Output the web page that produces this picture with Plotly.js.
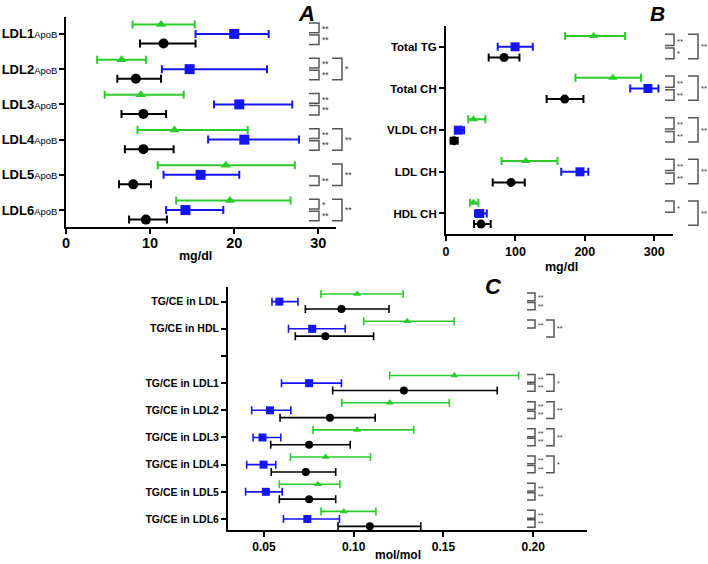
<!DOCTYPE html>
<html><head><meta charset="utf-8">
<script src="https://cdn.plot.ly/plotly-3.0.1.min.js"></script>
<style>body{margin:0;padding:0;background:#fff;} #chart{width:708px;height:564px;}</style>
</head><body><div id="chart"></div>
<script>
// ---------- Panel A (mg/dl) ----------
const catsA = ['LDL1','LDL2','LDL3','LDL4','LDL5','LDL6'];
const suffixA = 'ApoB';
const aGreenMean = [11.3, 6.6, 8.9, 12.9, 19.0, 19.5];
const aGreenLo   = [7.9, 3.7, 4.6, 8.5, 10.9, 13.1];
const aGreenHi   = [15.3, 9.5, 14.0, 21.6, 27.2, 26.7];
const aBlueMean  = [20.0, 14.7, 20.6, 21.2, 16.0, 14.2];
const aBlueLo    = [15.4, 11.4, 17.6, 16.9, 11.6, 11.9];
const aBlueHi    = [24.1, 23.9, 26.9, 27.7, 20.6, 18.7];
const aBlackMean = [11.6, 8.3, 9.2, 9.2, 8.0, 9.5];
const aBlackLo   = [8.8, 6.1, 6.6, 7.0, 6.3, 7.5];
const aBlackHi   = [15.4, 11.3, 11.9, 12.8, 10.1, 12.0];
const sigA_gb = ['**','**','**','**','','*'];
const sigA_bk = ['**','**','**','**','**','**'];
const sigA_gk = ['','*','','**','**','**'];
const ticksA = [0, 10, 20, 30];

// ---------- Panel B (mg/dl) ----------
const catsB = ['Total TG','Total CH','VLDL CH','LDL CH','HDL CH'];
const bGreenMean = [212.5, 240.4, 39.4, 115.0, 39.4];
const bGreenLo   = [171.6, 186.5, 32.0, 80.0, 34.6];
const bGreenHi   = [258.0, 281.0, 56.7, 160.6, 46.6];
const bBlueMean  = [99.5, 290.9, 17.8, 193.0, 48.6];
const bBlueLo    = [74.5, 265.4, 13.5, 166.0, 41.8];
const bBlueHi    = [125.0, 306.0, 26.0, 205.0, 58.7];
const bBlackMean = [83.7, 171.0, 11.5, 93.8, 50.5];
const bBlackLo   = [61.5, 145.0, 6.7, 67.3, 40.4];
const bBlackHi   = [105.8, 198.0, 16.8, 113.5, 64.4];
const sigB_gb = ['**','**','**','**','*'];
const sigB_bk = ['*','**','**','**',''];
const sigB_gk = ['**','**','**','**','**'];
const ticksB = [0, 100, 200, 300];

// ---------- Panel C (mol/mol) ----------
const catsC = ['TG/CE in LDL','TG/CE in HDL','','TG/CE in LDL1','TG/CE in LDL2','TG/CE in LDL3','TG/CE in LDL4','TG/CE in LDL5','TG/CE in LDL6'];
const cGreenMean = [0.1019, 0.1299, null, 0.1561, 0.1201, 0.1019, 0.0844, 0.0801, 0.0945];
const cGreenLo   = [0.0818, 0.1056, null, 0.1201, 0.0934, 0.0774, 0.0648, 0.0586, 0.0818];
const cGreenHi   = [0.1276, 0.1560, null, 0.1919, 0.1533, 0.1335, 0.1094, 0.0923, 0.1124];
const cBlueMean  = [0.0586, 0.0769, null, 0.0752, 0.0534, 0.0492, 0.0498, 0.0511, 0.0742];
const cBlueLo    = [0.0545, 0.0637, null, 0.0598, 0.0432, 0.0440, 0.0404, 0.0398, 0.0609];
const cBlueHi    = [0.0690, 0.0953, null, 0.0932, 0.0650, 0.0594, 0.0566, 0.0602, 0.0921];
const cBlackMean = [0.0932, 0.0842, null, 0.1280, 0.0868, 0.0752, 0.0733, 0.0752, 0.1090];
const cBlackLo   = [0.0731, 0.0675, null, 0.0883, 0.0590, 0.0538, 0.0541, 0.0586, 0.0913];
const cBlackHi   = [0.1197, 0.1111, null, 0.1800, 0.1120, 0.0981, 0.0900, 0.0900, 0.1374];
const sigC_gb = ['**','**','','**','**','**','**','**','**'];
const sigC_bk = ['**','','','**','**','**','**','**','**'];
const sigC_gk = ['','**','','*','**','**','*','',''];
const ticksC = [0.05, 0.10, 0.15, 0.20];

// ---------- styling ----------
const FONT = 'Liberation Sans, Arial, sans-serif';
const GREEN = '#2ccb2c', BLUE = '#1515f0', BLACK = '#000000';
const W = 708, H = 564;
const px = v => v / W;
const py = v => 1 - v / H;

function series(cats, mean, lo, hi, color, symbol, size, off, xa, ya, thick) {
  const y = cats.map((c, i) => mean[i] == null ? null : i + off);
  return {
    type: 'scatter', mode: 'markers', xaxis: xa, yaxis: ya,
    x: mean, y: y,
    marker: {color: color, symbol: symbol, size: size, line: {width: 0}},
    error_x: {type: 'data', symmetric: false,
      array: mean.map((m, i) => m == null ? null : hi[i] - m),
      arrayminus: mean.map((m, i) => m == null ? null : m - lo[i]),
      color: color, thickness: thick, width: 4},
    hoverinfo: 'x', cliponaxis: false
  };
}

const offG = -0.27, offK = 0.27;
const offGB = -0.26, offKB = 0.255;
const offGC = -0.28, offKC = 0.27;

const traces = [
  series(catsA, aGreenMean, aGreenLo, aGreenHi, GREEN, 'triangle-up', 9, offG, 'x', 'y', 2),
  series(catsA, aBlueMean, aBlueLo, aBlueHi, BLUE, 'square', 10, 0, 'x', 'y', 2),
  series(catsA, aBlackMean, aBlackLo, aBlackHi, BLACK, 'circle', 10, offK, 'x', 'y', 2),
  series(catsB, bGreenMean, bGreenLo, bGreenHi, GREEN, 'triangle-up', 8, offGB, 'x2', 'y2', 2),
  series(catsB, bBlueMean, bBlueLo, bBlueHi, BLUE, 'square', 9, 0, 'x2', 'y2', 2),
  series(catsB, bBlackMean, bBlackLo, bBlackHi, BLACK, 'circle', 9, offKB, 'x2', 'y2', 2),
  series(catsC, cGreenMean, cGreenLo, cGreenHi, GREEN, 'triangle-up', 7, offGC, 'x3', 'y3', 1.6),
  series(catsC, cBlueMean, cBlueLo, cBlueHi, BLUE, 'square', 8, 0, 'x3', 'y3', 1.6),
  series(catsC, cBlackMean, cBlackLo, cBlackHi, BLACK, 'circle', 8, offKC, 'x3', 'y3', 1.6)
];

// significance brackets
const shapes = [], annots = [];
function bracket(yref, x1, x2, ya, yb, color) {
  shapes.push({type: 'path', xref: 'paper', yref: yref,
    path: `M ${x1},${ya} L ${x2},${ya} L ${x2},${yb} L ${x1},${yb}`,
    line: {color: color, width: 1.5}});
}
function star(yref, x, y, txt, size) {
  annots.push({xref: 'paper', yref: yref, x: x, y: y, text: txt, showarrow: false,
    xanchor: 'left', yanchor: 'middle', font: {family: FONT, size: size, color: '#333'}});
}
function addSig(n, yref, gb, bk, gk, og, ok, sx1, sx2, bx1, bx2, ssize) {
  for (let i = 0; i < n; i++) {
    if (gb[i]) { bracket(yref, px(sx1), px(sx2), i + og - 0.04, i - 0.03, '#555');
      star(yref, px(sx2 + 1), i + og / 2, gb[i], ssize); }
    if (bk[i]) { bracket(yref, px(sx1), px(sx2), i + 0.03, i + ok + 0.03, '#555');
      star(yref, px(sx2 + 1), i + ok / 2 + 0.03, bk[i], ssize); }
    if (gk[i]) { bracket(yref, px(bx1), px(bx2), i + og - 0.04, i + ok + 0.03, '#555');
      star(yref, px(bx2 + 1), i, gk[i], ssize); }
  }
}
addSig(catsA.length, 'y', sigA_gb, sigA_bk, sigA_gk, offG, offK, 309, 319, 332, 342, 8.5);
addSig(catsB.length, 'y2', sigB_gb, sigB_bk, sigB_gk, offGB, offKB, 665, 674, 688, 698, 7.5);
addSig(catsC.length, 'y3', sigC_gb, sigC_bk, sigC_gk, offGC, offKC, 527, 535, 546, 554, 7);

// titles and panel letters
function label(x, y, text, size) {
  annots.push({xref: 'paper', yref: 'paper', x: px(x), y: py(y), text: text, showarrow: false,
    xanchor: 'center', yanchor: 'middle', font: {family: FONT, size: size, color: '#000'}});
}
label(195, 256, '<b>mg/dl</b>', 12.5);
label(561, 267, '<b>mg/dl</b>', 12.5);
label(398, 555, '<b>mol/mol</b>', 12);
label(306, 14, '<b><i>A</i></b>', 22);
label(657, 14, '<b><i>B</i></b>', 21);
label(494, 286, '<b><i>C</i></b>', 22);

const axBase = {showgrid: false, zeroline: false, showline: true, linecolor: '#000', linewidth: 2,
  ticks: 'outside', ticklen: 5, tickwidth: 2, tickcolor: '#000'};

const layout = {
  width: W, height: H, margin: {l: 0, r: 0, t: 0, b: 0},
  paper_bgcolor: '#fff', plot_bgcolor: 'rgba(0,0,0,0)', showlegend: false,
  font: {family: FONT, color: '#000'},
  xaxis: Object.assign({}, axBase, {domain: [px(66), px(336)], anchor: 'y', range: [0, 32.1],
    tickvals: ticksA, ticklabelstandoff: -3, tickfont: {family: FONT, size: 14.5, weight: 'bold'}}),
  yaxis: Object.assign({}, axBase, {domain: [py(227), py(17)], anchor: 'x', range: [5.48, -0.48],
    tickvals: catsA.map((c, i) => i), ticklabelstandoff: -1,
    ticktext: catsA.map(c => `<b>${c}</b><span style="font-size:9.5px">${suffixA}</span>`),
    tickfont: {family: FONT, size: 13}}),
  xaxis2: Object.assign({}, axBase, {domain: [px(446), px(673)], anchor: 'y2', range: [0, 327],
    tickvals: ticksB, tickfont: {family: FONT, size: 12.5, weight: 'bold'}}),
  yaxis2: Object.assign({}, axBase, {domain: [py(234.3), py(26)], anchor: 'x2', range: [4.5, -0.5],
    tickvals: catsB.map((c, i) => i), ticktext: catsB.map(c => `<b>${c}</b>`),
    tickfont: {family: FONT, size: 11.5}}),
  xaxis3: Object.assign({}, axBase, {domain: [px(228), px(587)], anchor: 'y3', range: [0.03, 0.23],
    tickvals: ticksC, ticktext: ticksC.map(v => v.toFixed(2)), tickfont: {family: FONT, size: 12, weight: 'bold'}}),
  yaxis3: Object.assign({}, axBase, {domain: [py(530), py(286.7)], anchor: 'x3', range: [8.405, -0.55],
    tickvals: catsC.map((c, i) => i), ticktext: catsC.map(c => c ? `<b>${c}</b>` : ''),
    tickfont: {family: FONT, size: 10.5}}),
  shapes: shapes,
  annotations: annots
};

Plotly.newPlot('chart', traces, layout, {displayModeBar: false, staticPlot: true});
</script>
</body></html>
